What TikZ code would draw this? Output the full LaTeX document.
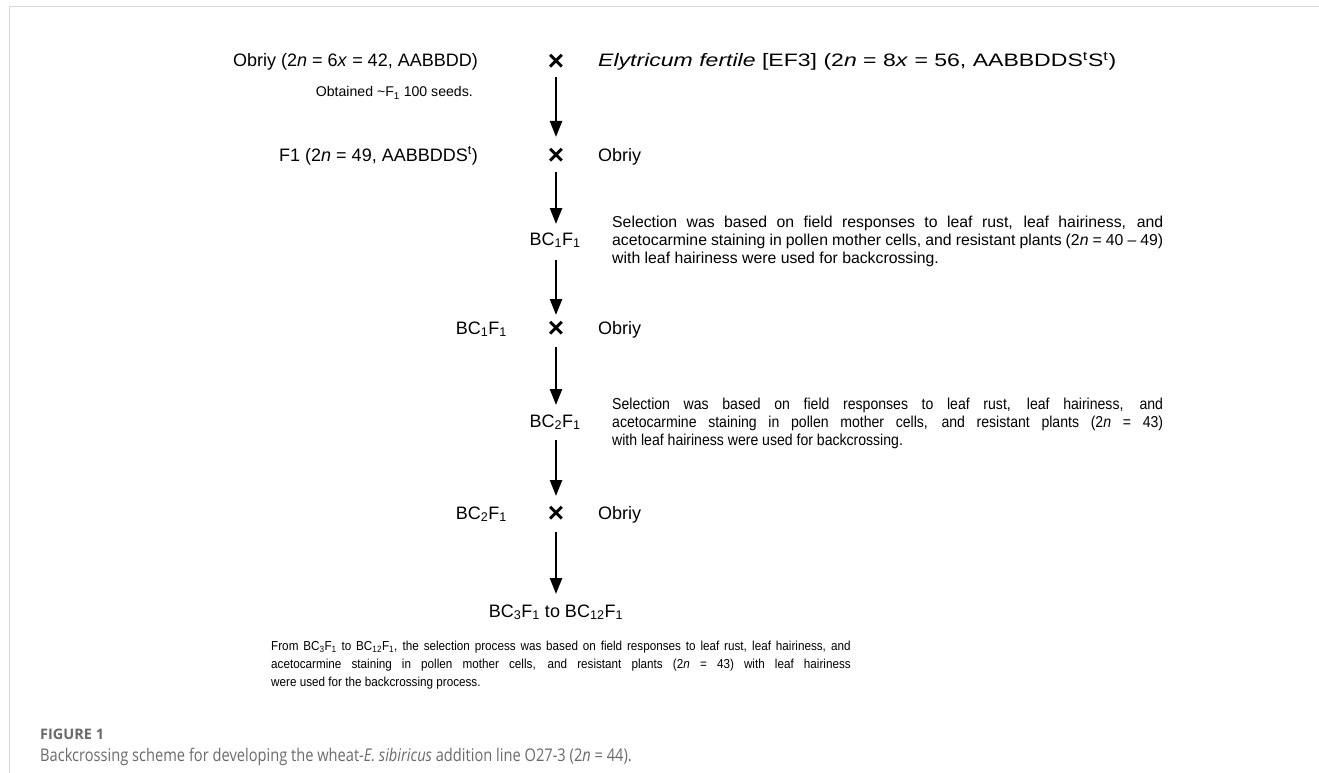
\documentclass[tikz,border=0pt]{standalone}
\usepackage{fontspec}
\usepackage{graphicx}
\setmainfont{Liberation Sans}
\newfontfamily\capfont{Open Sans}[FakeStretch=0.837]
\newfontfamily\figfont{Open Sans}[FakeStretch=1.0]
\usetikzlibrary{arrows.meta}
\definecolor{capgray}{HTML}{6A6A6A}
\definecolor{framegray}{HTML}{D8D8D8}
\tikzset{
  big/.style={inner sep=0pt, font=\fontsize{18}{21}\selectfont},
  small/.style={inner sep=0pt, font=\fontsize{14.1}{16}\selectfont},
  note/.style={inner sep=0pt, font=\fontsize{15.8}{18}\selectfont},
  foot/.style={inner sep=0pt, font=\fontsize{13}{18}\selectfont},
  cross/.style={inner sep=0pt, font=\fontsize{28}{30}\selectfont\bfseries},
  flow/.style={line width=2.4pt, -{Triangle[width=12pt,length=16pt]}},
}
\newcommand{\jline}[2]{\makebox[#1][s]{#2}}
\newcommand{\sx}[2]{\scalebox{#1}[1]{#2}}
\begin{document}
\begin{tikzpicture}[x=1pt,y=-1pt]
\useasboundingbox (0,0) rectangle (1319,773);
\draw[framegray, line width=1pt] (9,773) -- (9,7) -- (1319,7);
% row 1
\node[big, anchor=base east] (p1) at (478,67) {Obriy (2\textit{n} = 6\textit{x} = 42, AABBDD)};
\node[cross] (c0) at (556,62) {×};
\node[big, anchor=base west] (p2) at (598,67) {\sx{1.28}{\textit{Elytricum fertile} [EF3] (2\textit{n} = 8\textit{x} = 56, AABBDDS\textsuperscript{t}S\textsuperscript{t})}};
\node[small, anchor=base east] (ob) at (473,97) {Obtained \textasciitilde F\textsubscript{1} 100 seeds.};
% row 2
\node[big, anchor=base east] (f1) at (478,161) {F1 (2\textit{n} = 49, AABBDDS\textsuperscript{t})};
\node[cross] (c1) at (556,156) {×};
\node[big, anchor=base west] (o1) at (598,161) {Obriy};
% BC1F1
\node[big, anchor=base] (bc1) at (555,245) {BC\textsubscript{1}F\textsubscript{1}};
\node[note, anchor=base west] (s1a) at (612,227) {\jline{551pt}{Selection was based on field responses to leaf rust, leaf hairiness, and}};
\node[note, anchor=base west] (s1b) at (612,245) {\jline{551pt}{acetocarmine staining in pollen mother cells, and resistant plants (2\textit{n} = 40 – 49)}};
\node[note, anchor=base west] (s1c) at (612,263) {with leaf hairiness were used for backcrossing.};
% row 3
\node[big, anchor=base east] (bc1b) at (507,334) {BC\textsubscript{1}F\textsubscript{1}};
\node[cross] (c2) at (556,329) {×};
\node[big, anchor=base west] (o2) at (598,334) {Obriy};
% BC2F1
\node[big, anchor=base] (bc2) at (555,427) {BC\textsubscript{2}F\textsubscript{1}};
\node[note, anchor=base west] (s2a) at (612,409) {\sx{0.89}{\jline{619pt}{Selection was based on field responses to leaf rust, leaf hairiness, and}}};
\node[note, anchor=base west] (s2b) at (612,427) {\sx{0.89}{\jline{619pt}{acetocarmine staining in pollen mother cells, and resistant plants (2\textit{n} = 43)}}};
\node[note, anchor=base west] (s2c) at (612,445) {\sx{0.89}{with leaf hairiness were used for backcrossing.}};
% row 4
\node[big, anchor=base east] (bc2b) at (507,519) {BC\textsubscript{2}F\textsubscript{1}};
\node[cross] (c3) at (556,514) {×};
\node[big, anchor=base west] (o3) at (598,519) {Obriy};
% final
\node[big, anchor=base] (bce) at (556,617) {BC\textsubscript{3}F\textsubscript{1} to BC\textsubscript{12}F\textsubscript{1}};
\node[foot, anchor=base west] (b1) at (271,650) {\sx{0.9}{\jline{644pt}{From BC\textsubscript{3}F\textsubscript{1} to BC\textsubscript{12}F\textsubscript{1}, the selection process was based on field responses to leaf rust, leaf hairiness, and}}};
\node[foot, anchor=base west] (b2) at (271,668) {\sx{0.9}{\jline{644pt}{acetocarmine staining in pollen mother cells, and resistant plants (2\textit{n} = 43) with leaf hairiness}}};
\node[foot, anchor=base west] (b3) at (271,686) {\sx{0.9}{were used for the backcrossing process.}};
% caption
\node[inner sep=0pt, anchor=base west, text=capgray, font=\figfont\fontsize{14.5}{16}\selectfont\bfseries] (fig) at (40,739) {FIGURE 1};
\node[inner sep=0pt, anchor=base west, text=capgray, font=\capfont\fontsize{17.5}{20}\selectfont] (cap) at (40,761) {Backcrossing scheme for developing the wheat-\textit{E. sibiricus} addition line O27-3 (2\textit{n} = 44).};
% arrows
\draw[flow, shorten <=15pt, shorten >=19pt] (c0.center) -- (c1.center);
\draw[flow, shorten <=16pt, shorten >=21pt] (c1.center) -- (c1.center |- bc1.base);
\draw[flow, shorten <=15pt, shorten >=14pt] (c2.center |- bc1.base) -- (c2.center);
\draw[flow, shorten <=18pt, shorten >=22pt] (c2.center) -- (c2.center |- bc2.base);
\draw[flow, shorten <=13pt, shorten >=18pt] (c3.center |- bc2.base) -- (c3.center);
\draw[flow, shorten <=18pt, shorten >=23pt] (c3.center) -- (c3.center |- bce.base);
\end{tikzpicture}
\end{document}
